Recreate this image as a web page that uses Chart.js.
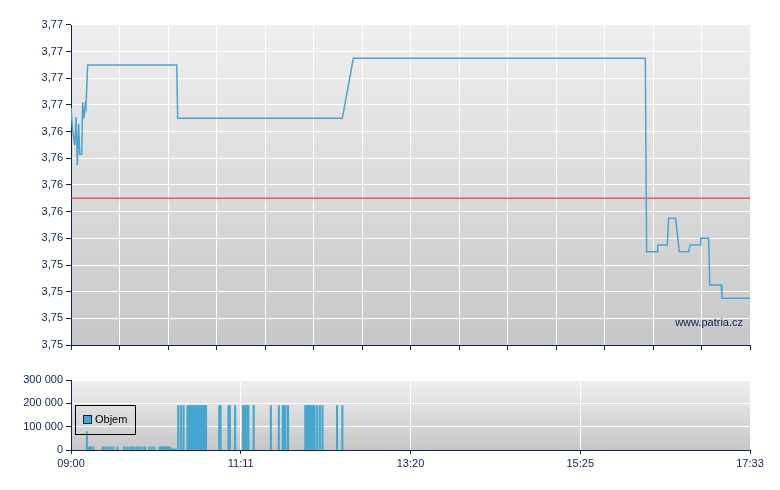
<!DOCTYPE html>
<html><head><meta charset="utf-8">
<script src="https://cdn.jsdelivr.net/npm/chart.js@4/dist/chart.umd.min.js"></script>
<style>
html,body{margin:0;padding:0;background:#fff;}
#wrap{position:relative;width:780px;height:490px;overflow:hidden;}
canvas{position:absolute;left:0;}
#price{top:0;}
#vol{top:360px;}
</style></head><body>
<div id="wrap"><canvas id="price" width="780" height="360"></canvas><canvas id="vol" width="780" height="130"></canvas></div>
<script>
// ---- data (x = minutes since 09:00) ----
const sessionMinutes = 513; // 09:00 -> 17:33
const timeLabels = ['09:00', '11:11', '13:20', '15:25', '17:33'];

const priceTimes  = [0, 1.3, 2.8, 3.8, 4.8, 5.8, 6.6, 8.1, 8.8, 9.8, 10.8, 11.3, 12.6,
                     79.9, 80.6, 205.0, 213.3, 433.9, 434.9, 442.9, 443.3, 450.5, 451.5,
                     456.8, 459.6, 466.7, 467.7, 475.4, 475.8, 481.8, 482.6, 491.3, 491.8, 513];
const priceValues = [3.7658, 3.764, 3.763, 3.7651, 3.7615, 3.7646, 3.7623, 3.7623, 3.7662, 3.765, 3.766, 3.7658, 3.769,
                     3.769, 3.765, 3.765, 3.7695, 3.7695, 3.755, 3.755, 3.7555, 3.7555, 3.7575,
                     3.7575, 3.755, 3.755, 3.7555, 3.7555, 3.756, 3.756, 3.7525, 3.7525, 3.7515, 3.7515];
const referencePrice = 3.759;
const priceMin = 3.748, priceMax = 3.772, priceStep = 0.002;

const volumeMinutes = [12, 13, 14, 15,
  17, 24, 25, 27, 29, 30, 32, 35, 40, 42, 43, 45, 46, 48, 50, 51, 53, 55, 56, 59, 61, 63,
  67, 68, 69, 70, 71, 72, 73, 74, 75,
  76, 77, 78, 79,
  81, 83, 85, 88, 89, 90, 91, 92, 93, 94, 95, 96, 97, 98, 99, 100, 101, 102,
  112, 113, 119, 120, 124, 130, 131, 132, 133, 134, 138, 151, 157, 160, 161, 162, 164,
  177, 178, 179, 180, 181, 182, 183, 184, 186, 188, 190, 201, 205];
const volumeValues = [78000, 13000, 13000, 13000,
  13000, 13000, 13000, 13000, 13000, 13000, 13000, 13000, 13000, 13000, 13000, 13000, 13000, 13000, 13000, 13000, 13000, 13000, 13000, 13000, 13000, 13000,
  13000, 13000, 13000, 13000, 13000, 13000, 13000, 13000, 13000,
  4000, 4000, 4000, 4000,
  190000, 190000, 190000, 190000, 190000, 190000, 190000, 190000, 190000, 190000, 190000, 190000, 190000, 190000, 190000, 190000, 190000, 190000,
  190000, 190000, 190000, 190000, 190000, 190000, 190000, 190000, 190000, 190000, 190000, 190000, 190000, 190000, 190000, 190000, 190000,
  190000, 190000, 190000, 190000, 190000, 190000, 190000, 190000, 190000, 190000, 190000, 190000, 190000];
const volumeMax = 300000, volumeStep = 100000;

// ---- styling ----
const NAVY = '#0d2452';
const LINE_BLUE = '#4ba4cf';
const BAR_BLUE = '#46a6cf';
Chart.defaults.font.family = "'Liberation Sans', Arial, sans-serif";
Chart.defaults.font.size = 11;
Chart.defaults.color = NAVY;

const plotBg = {
  id: 'plotBg',
  beforeDraw(chart) {
    const {ctx, chartArea: a} = chart;
    const g = ctx.createLinearGradient(0, a.top, 0, a.bottom);
    g.addColorStop(0, '#efefef');
    g.addColorStop(1, '#c7c7c7');
    ctx.save();
    ctx.fillStyle = g;
    ctx.fillRect(a.left, a.top, a.right - a.left, a.bottom - a.top);
    ctx.restore();
  }
};

const watermark = {
  id: 'watermark',
  afterDatasetsDraw(chart) {
    const {ctx, chartArea: a} = chart;
    ctx.save();
    ctx.font = "11px 'Liberation Sans', Arial, sans-serif";
    ctx.fillStyle = NAVY;
    ctx.textAlign = 'right';
    ctx.textBaseline = 'middle';
    ctx.fillText('www.patria.cz', a.right - 7, a.bottom - 22);
    ctx.restore();
  }
};

const boxLegend = {
  id: 'boxLegend',
  afterDatasetsDraw(chart) {
    const {ctx, chartArea: a} = chart;
    const ds = chart.data.datasets[0];
    const x = a.left + 4, y = a.top + 25;
    ctx.save();
    ctx.strokeStyle = '#000';
    ctx.lineWidth = 1;
    ctx.strokeRect(x + 0.5, y + 0.5, 60, 29);
    ctx.fillStyle = ds.backgroundColor;
    ctx.fillRect(x + 9, y + 11, 7, 7);
    ctx.strokeStyle = NAVY;
    ctx.strokeRect(x + 8.5, y + 10.5, 8, 8);
    ctx.fillStyle = '#000';
    ctx.font = "11px 'Liberation Sans', Arial, sans-serif";
    ctx.textBaseline = 'middle';
    ctx.fillText(ds.label, x + 20, y + 15);
    ctx.restore();
  }
};

const fmtPrice = v => Number(v).toFixed(2).replace('.', ',');
const fmtVol = v => String(Math.round(v)).replace(/\B(?=(\d{3})+(?!\d))/g, ' ');

// ---- price chart ----
new Chart(document.getElementById('price'), {
  type: 'line',
  data: {
    datasets: [
      {
        label: 'Cena',
        data: priceTimes.map((t, i) => ({x: t, y: priceValues[i]})),
        borderColor: LINE_BLUE,
        borderWidth: 1.5,
        pointRadius: 0,
        tension: 0,
        fill: false
      },
      {
        label: 'Předchozí závěr',
        data: [{x: 0, y: referencePrice}, {x: sessionMinutes, y: referencePrice}],
        borderColor: 'rgba(226,70,70,0.85)',
        borderWidth: 1.5,
        pointRadius: 0,
        fill: false
      }
    ]
  },
  options: {
    responsive: false,
    animation: false,
    devicePixelRatio: 1,
    layout: {padding: {left: 0, right: 30, top: 25, bottom: 10}},
    plugins: {legend: {display: false}, tooltip: {enabled: false}},
    scales: {
      x: {
        type: 'linear', min: 0, max: sessionMinutes, offset: false,
        afterBuildTicks(scale) {
          const t = [];
          for (let i = 0; i <= 14; i++) t.push({value: sessionMinutes * i / 14});
          scale.ticks = t;
        },
        ticks: {display: false},
        grid: {color: '#ffffff', lineWidth: 1, tickColor: NAVY, tickLength: 5, drawTicks: true},
        border: {color: NAVY, width: 1}
      },
      y: {
        min: priceMin, max: priceMax,
        afterBuildTicks(scale) {
          const t = [];
          for (let i = 0; i <= 12; i++) t.push({value: priceMin + i * priceStep});
          scale.ticks = t;
        },
        afterFit(scale) { scale.width = 71; },
        ticks: {callback: v => fmtPrice(v), padding: 3, color: NAVY},
        grid: {color: '#ffffff', lineWidth: 1, tickColor: NAVY, tickLength: 5},
        border: {color: NAVY, width: 1}
      }
    }
  },
  plugins: [plotBg, watermark]
});

// ---- volume chart ----
new Chart(document.getElementById('vol'), {
  type: 'bar',
  data: {
    datasets: [{
      label: 'Objem',
      data: volumeMinutes.map((m, i) => ({x: m, y: volumeValues[i]})),
      backgroundColor: BAR_BLUE,
      borderWidth: 0,
      inflateAmount: 0.4,
      barPercentage: 1,
      categoryPercentage: 1
    }]
  },
  options: {
    responsive: false,
    animation: false,
    devicePixelRatio: 1,
    layout: {padding: {left: 0, right: 30, top: 20, bottom: 20}},
    plugins: {legend: {display: false}, tooltip: {enabled: false}},
    scales: {
      x: {
        type: 'linear', min: 0, max: sessionMinutes, offset: false,
        afterBuildTicks(scale) {
          scale.ticks = timeLabels.map((l, i) => ({value: sessionMinutes * i / (timeLabels.length - 1)}));
        },
        afterFit(scale) { scale.height = 20; },
        ticks: {callback: (v, i) => timeLabels[i], maxRotation: 0, autoSkip: false, padding: 3, color: NAVY},
        grid: {color: '#ffffff', lineWidth: 1, tickColor: NAVY, tickLength: 4, offset: false},
        border: {color: NAVY, width: 1}
      },
      y: {
        min: 0, max: volumeMax,
        ticks: {stepSize: volumeStep, callback: v => fmtVol(v), padding: 3, color: NAVY},
        afterFit(scale) { scale.width = 71; },
        grid: {color: '#ffffff', lineWidth: 1, tickColor: NAVY, tickLength: 5},
        border: {color: NAVY, width: 1}
      }
    }
  },
  plugins: [plotBg, boxLegend]
});
</script>
</body></html>
